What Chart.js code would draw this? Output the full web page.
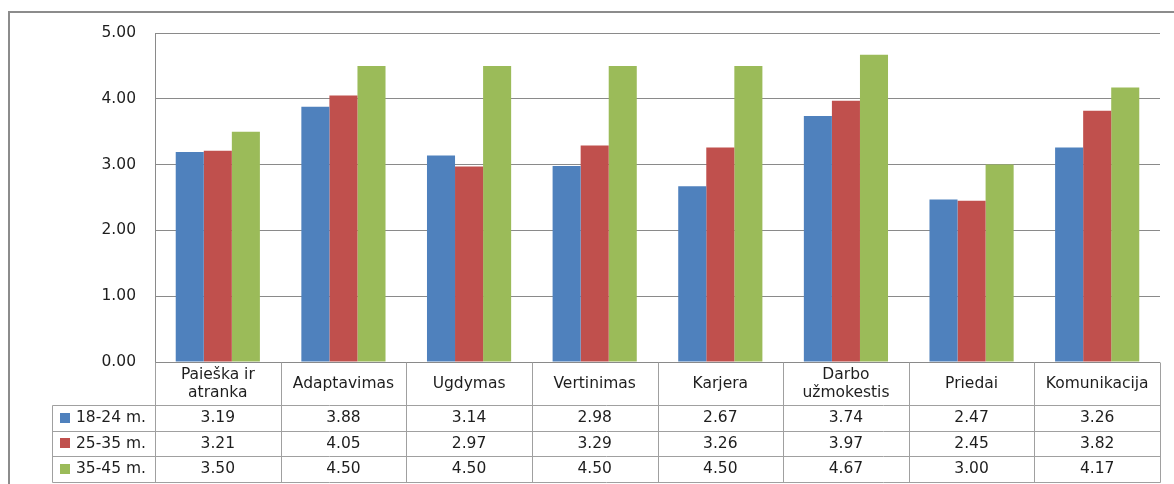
<!DOCTYPE html>
<html>
<head>
<meta charset="utf-8">
<script src="https://cdn.jsdelivr.net/npm/chart.js@4"></script>
<style>
  html, body { margin: 0; padding: 0; background: #ffffff; }
  #wrap { width: 1174px; height: 484px; position: relative; }
</style>
</head>
<body>
<div id="wrap"><canvas id="c" width="1174" height="484"></canvas></div>
<script>
// Categories (multi-line labels are arrays of lines)
const categories = [
  ["Paieška ir", "atranka"],
  "Adaptavimas",
  "Ugdymas",
  "Vertinimas",
  "Karjera",
  ["Darbo", "užmokestis"],
  "Priedai",
  "Komunikacija"
];

// Age groups
const seriesNames = ["18-24 m.", "25-35 m.", "35-45 m."];

// Average scores per age group
const age18to24 = [3.19, 3.88, 3.14, 2.98, 2.67, 3.74, 2.47, 3.26];
const age25to35 = [3.21, 4.05, 2.97, 3.29, 3.26, 3.97, 2.45, 3.82];
const age35to45 = [3.50, 4.50, 4.50, 4.50, 4.50, 4.67, 3.00, 4.17];

// Value axis ticks
const yTicks = [0, 1, 2, 3, 4, 5];

const seriesColors = ["#4F81BD", "#C0504D", "#9BBB59"];
const FONT = "DejaVu Sans";
const FONT_SIZE = 15.5;
const TEXT_COLOR = "#1e1e1e";
const GRID_COLOR = "#8a8a8a";
const TABLE_COLOR = "#a0a0a0";

const seriesValues = [age18to24, age25to35, age35to45];

// Draws the outer frame and the data table under the plot
const dataTablePlugin = {
  id: "dataTable",
  beforeDraw(chart) {
    const ctx = chart.ctx;
    ctx.save();
    ctx.fillStyle = "#ffffff";
    ctx.fillRect(0, 0, chart.width, chart.height);
    ctx.strokeStyle = "#8c8c8c";
    ctx.lineWidth = 2;
    ctx.beginPath();
    ctx.moveTo(9, chart.height);
    ctx.lineTo(9, 12);
    ctx.lineTo(chart.width, 12);
    ctx.stroke();
    ctx.restore();
  },
  afterDraw(chart) {
    const ctx = chart.ctx;
    const area = chart.chartArea;
    const xs = chart.scales.x;
    const n = categories.length;
    const colW = area.width / n;
    const top = area.bottom;
    const headerBottom = top + 43;
    const rowH = 25.5;
    const rows = [headerBottom, headerBottom + rowH, headerBottom + 2 * rowH, headerBottom + 3 * rowH];
    const legendLeft = 52;

    ctx.save();
    ctx.strokeStyle = TABLE_COLOR;
    ctx.lineWidth = 1;
    const line = (x1, y1, x2, y2) => {
      ctx.beginPath();
      ctx.moveTo(Math.round(x1) + 0.5, Math.round(y1) + 0.5);
      ctx.lineTo(Math.round(x2) + 0.5, Math.round(y2) + 0.5);
      ctx.stroke();
    };
    // horizontal rules
    rows.forEach(y => line(legendLeft, y, area.right, y));
    // column separators
    for (let i = 0; i <= n; i++) {
      const x = area.left + i * colW;
      line(x, top, x, rows[3]);
    }
    line(legendLeft, rows[0], legendLeft, rows[3]);

    ctx.fillStyle = TEXT_COLOR;
    ctx.font = FONT_SIZE + "px '" + FONT + "'";
    ctx.textAlign = "center";
    ctx.textBaseline = "middle";

    // category header row
    categories.forEach((cat, i) => {
      const cx = xs.getPixelForValue(i);
      const lines = Array.isArray(cat) ? cat : [cat];
      const mid = (top + headerBottom) / 2;
      const lh = 18;
      lines.forEach((t, k) => {
        const y = mid + (k - (lines.length - 1) / 2) * lh;
        ctx.fillText(t, cx, y);
      });
    });

    // value rows with legend keys
    seriesValues.forEach((vals, s) => {
      const y0 = rows[s];
      const mid = (y0 + rows[s + 1]) / 2;
      ctx.fillStyle = seriesColors[s];
      ctx.fillRect(60, Math.round(mid - 5), 10, 10);
      ctx.fillStyle = TEXT_COLOR;
      ctx.textAlign = "left";
      ctx.fillText(seriesNames[s], 76, mid + 0.5);
      ctx.textAlign = "center";
      vals.forEach((v, i) => {
        ctx.fillText(v.toFixed(2), xs.getPixelForValue(i), mid + 0.5);
      });
    });
    ctx.restore();
  }
};

new Chart(document.getElementById("c"), {
  type: "bar",
  data: {
    labels: categories,
    datasets: seriesNames.map((name, s) => ({
      label: name,
      data: seriesValues[s],
      backgroundColor: seriesColors[s],
      borderWidth: 0,
      categoryPercentage: 0.67,
      barPercentage: 1.0
    }))
  },
  options: {
    responsive: false,
    animation: false,
    layout: { padding: { top: 33, right: 14, bottom: 122, left: 0 } },
    plugins: {
      legend: { display: false },
      tooltip: { enabled: false }
    },
    scales: {
      x: {
        display: false
      },
      y: {
        min: yTicks[0],
        max: yTicks[yTicks.length - 1],
        afterFit(scale) { scale.width = 155; },
        afterBuildTicks(scale) { scale.ticks = yTicks.map(v => ({ value: v })); },
        ticks: {
          padding: 19,
          color: TEXT_COLOR,
          font: { family: FONT, size: FONT_SIZE },
          callback: v => Number(v).toFixed(2)
        },
        grid: { color: GRID_COLOR, drawTicks: false, lineWidth: 1 },
        border: { display: true, color: GRID_COLOR, width: 1 }
      }
    }
  },
  plugins: [dataTablePlugin]
});
</script>
</body>
</html>
